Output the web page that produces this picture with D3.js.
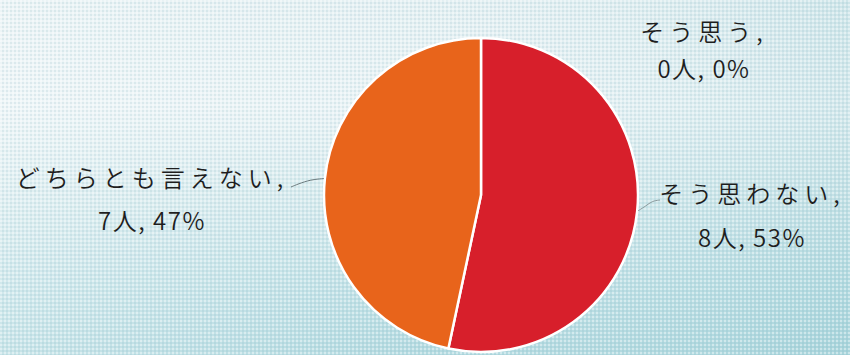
<!DOCTYPE html>
<html lang="ja">
<head>
<meta charset="utf-8">
<script src="https://cdn.jsdelivr.net/npm/d3@7"></script>
<style>
  html, body { margin: 0; padding: 0; background: #fff; }
  svg { display: block; }
  text { font-family: "Noto Sans CJK JP", "Noto Sans", sans-serif; fill: #1e1e1e; font-weight: 350; }
</style>
</head>
<body>
<svg id="chart" width="850" height="355"></svg>
<script>
// Survey answers, drawn clockwise from 12 o'clock
const categories = ["そう思う", "そう思わない", "どちらとも言えない"];
const counts = [0, 8, 7];
const percents = [0, 53, 47];

const sliceColors = ["#3a6fb5", "#d71f2b", "#e8641b"];

const W = 850, H = 355;
const cx = 481, cy = 195, radius = 157;

// Label block placement for each category: centre x, first baseline, line gap
const labelLayout = [
  { x: 704, y: 41, gap: 37 },
  { x: 752, y: 203, gap: 44 },
  { x: 152, y: 187, gap: 43 }
];

const svg = d3.select("#chart");
const defs = svg.append("defs");

// Soft teal background wash
const bg = defs.append("linearGradient").attr("id", "bgGrad")
  .attr("x1", 0).attr("y1", 0).attr("x2", 0).attr("y2", 1);
[["0%", "#e1eef1"], ["30%", "#e6f1f4"], ["55%", "#d0e7eb"], ["80%", "#b9dde3"], ["100%", "#abd6dd"]]
  .forEach(([o, c]) => bg.append("stop").attr("offset", o).attr("stop-color", c));

const side = defs.append("linearGradient").attr("id", "sideGrad")
  .attr("x1", 0).attr("y1", 0).attr("x2", 1).attr("y2", 0);
side.append("stop").attr("offset", "0%").attr("stop-color", "#ffffff").attr("stop-opacity", 0.35);
side.append("stop").attr("offset", "50%").attr("stop-color", "#ffffff").attr("stop-opacity", 0.1);
side.append("stop").attr("offset", "100%").attr("stop-color", "#9fcfd6").attr("stop-opacity", 0.28);

// Halftone dot texture
const pat = defs.append("pattern").attr("id", "dots")
  .attr("width", 4).attr("height", 4).attr("patternUnits", "userSpaceOnUse");
pat.append("rect").attr("x", 0).attr("y", 0).attr("width", 2).attr("height", 2)
  .attr("fill", "#ffffff").attr("opacity", 0.4);
pat.append("rect").attr("x", 2).attr("y", 2).attr("width", 2).attr("height", 2)
  .attr("fill", "#6fa9b4").attr("opacity", 0.15);

svg.append("rect").attr("width", W).attr("height", H).attr("fill", "url(#bgGrad)");
svg.append("rect").attr("width", W).attr("height", H).attr("fill", "url(#sideGrad)");
svg.append("rect").attr("width", W).attr("height", H).attr("fill", "url(#dots)");

// Pie
const pie = d3.pie().sort(null).value(d => d)(counts);
const arc = d3.arc().innerRadius(0).outerRadius(radius);

const g = svg.append("g").attr("transform", `translate(${cx},${cy})`);
g.selectAll("path.slice")
  .data(pie.filter(d => d.value > 0))
  .join("path")
  .attr("class", "slice")
  .attr("d", arc)
  .attr("fill", d => sliceColors[d.index])
  .attr("stroke", "#ffffff")
  .attr("stroke-width", 2.5)
  .attr("stroke-linejoin", "round");

// Leader lines from the rim to the labels
const rimPoint = (angle, r) => [cx + r * Math.sin(angle), cy - r * Math.cos(angle)];
const leader = d3.line().curve(d3.curveBasis);
{
  const a = pie[2].startAngle + (pie[2].endAngle - pie[2].startAngle) * 0.5;
  const p = rimPoint(a, radius);
  svg.append("path")
    .attr("d", leader([[p[0] - 1, p[1]], [p[0] - 14, p[1] + 1], [298, 184], [291, 187]]))
    .attr("fill", "none").attr("stroke", "#6b7a7d").attr("stroke-width", 1);
}
{
  const p = rimPoint(Math.PI / 2 + 0.1, radius);
  svg.append("path")
    .attr("d", leader([[p[0] + 1, p[1]], [646, 206], [652, 201], [660, 200]]))
    .attr("fill", "none").attr("stroke", "#8a9a9d").attr("stroke-width", 1);
}

// Category labels
const labels = svg.append("g");
categories.forEach((c, i) => {
  const L = labelLayout[i];
  const t = labels.append("text")
    .attr("text-anchor", "middle")
    .attr("font-size", 24);
  t.append("tspan").attr("x", L.x).attr("y", L.y)
    .attr("letter-spacing", "5px")
    .text(c + ",");
  t.append("tspan").attr("x", L.x).attr("y", L.y + L.gap)
    .attr("letter-spacing", "1.5px")
    .text(`${counts[i]}人, ${percents[i]}%`);
});
</script>
</body>
</html>
